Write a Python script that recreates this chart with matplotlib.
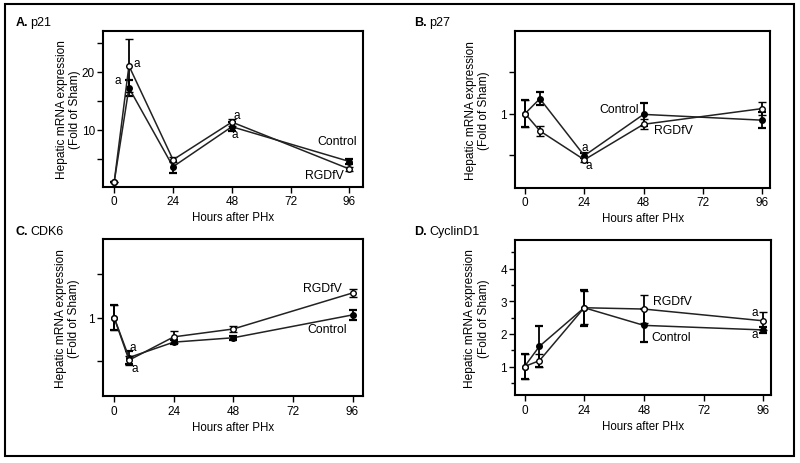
import matplotlib
matplotlib.use("Agg")
import matplotlib.pyplot as plt
from matplotlib.patches import Rectangle

plt.rcParams['font.family'] = ['Liberation Sans Narrow', 'Liberation Sans', 'DejaVu Sans']

hours = [0, 6, 24, 48, 96]

# A. p21
p21_ctrl = [1.0, 17.2, 3.6, 10.5, 4.5]
p21_ctrl_err = [0.0, 1.4, 1.0, 0.8, 0.5]
p21_rgd = [1.0, 21.0, 4.8, 11.3, 3.2]
p21_rgd_err = [0.0, 4.6, 0.4, 0.6, 0.3]

# B. p27
p27_ctrl = [1.0, 1.18, 0.49, 0.99, 0.92]
p27_ctrl_err = [0.16, 0.08, 0.03, 0.14, 0.10]
p27_rgd = [1.0, 0.79, 0.44, 0.87, 1.06]
p27_rgd_err = [0.16, 0.06, 0.03, 0.06, 0.08]

# C. CDK6
cdk6_ctrl = [1.0, 0.545, 0.72, 0.77, 1.03]
cdk6_ctrl_err = [0.14, 0.07, 0.02, 0.02, 0.055]
cdk6_rgd = [1.0, 0.515, 0.78, 0.87, 1.28]
cdk6_rgd_err = [0.14, 0.05, 0.07, 0.03, 0.045]

# D. CyclinD1
ccnd1_ctrl = [1.0, 1.62, 2.8, 2.26, 2.12]
ccnd1_ctrl_err = [0.37, 0.62, 0.55, 0.50, 0.08]
ccnd1_rgd = [1.0, 1.18, 2.8, 2.76, 2.4]
ccnd1_rgd_err = [0.37, 0.21, 0.50, 0.43, 0.28]

LINE = '#222222'

fig = plt.figure(figsize=(8, 4.64), dpi=100)
fig.patches.append(Rectangle((5 / 800, 1 - 457 / 464), 789 / 800, 452 / 464,
                             transform=fig.transFigure, fill=False,
                             edgecolor='black', linewidth=1.5))


def panel(rect, xlim, ylim, ctrl, ctrl_err, rgd, rgd_err, yticks, ylabels,
          letter, name, title_x, labels, marks, label_x):
    ax = fig.add_axes(rect)
    ax.errorbar(hours, ctrl, yerr=ctrl_err, color=LINE, lw=1.1, marker='o', ms=4,
                mfc='black', mec='black', ecolor='black', elinewidth=1.3,
                capsize=3, capthick=1.6, zorder=3)
    ax.errorbar(hours, rgd, yerr=rgd_err, color=LINE, lw=1.1, marker='o', ms=4,
                mfc='white', mec='black', mew=1.0, ecolor='black', elinewidth=1.3,
                capsize=3, capthick=1.6, zorder=4)
    ax.set_xlim(*xlim)
    ax.set_ylim(*ylim)
    ax.set_xticks([0, 24, 48, 72, 96])
    ax.set_yticks(yticks)
    ax.set_yticklabels(ylabels)
    for s in ax.spines.values():
        s.set_linewidth(1.5)
    ax.tick_params(direction='out', length=4, width=1.0, labelsize=8.5, pad=2)
    ax.set_xlabel('Hours after PHx', fontsize=8.3, labelpad=3)
    ax.set_ylabel('Hepatic mRNA expression\n(Fold of Sham)', fontsize=8.6,
                  linespacing=1.15)
    ax.yaxis.set_label_coords(label_x, 0.5)
    for txt, x, y, ha in labels:
        ax.text(x, y, txt, fontsize=8.8, ha=ha, va='center')
    for x, y in marks:
        ax.text(x, y, 'a', fontsize=8.5, ha='center', va='center')
    fy = rect[1] + rect[3] + 0.019
    fig.text(title_x, fy, letter, fontsize=9, fontweight='bold', va='center')
    fig.text(title_x + 0.019, fy, name, fontsize=9, va='center')
    return ax


panel([0.129, 0.595, 0.325, 0.336], (-4.5, 101.6), (0.12, 27),
      p21_ctrl, p21_ctrl_err, p21_rgd, p21_rgd_err,
      [5, 10, 15, 20, 25], ['', '10', '', '20', ''], 'A.', 'p21', 0.019,
      [('Control', 99, 8.0, 'right'), ('RGDfV', 93.5, 2.2, 'right')],
      [(1.5, 18.6), (9.0, 21.5), (50.0, 12.5), (49.0, 9.3)], -0.085)

panel([0.644, 0.593, 0.319, 0.338], (-4.0, 99.4), (0.1, 2.0),
      p27_ctrl, p27_ctrl_err, p27_rgd, p27_rgd_err,
      [0.5, 1.0, 1.5], ['', '1', ''], 'B.', 'p27', 0.518,
      [('Control', 30.1, 1.05, 'left'), ('RGDfV', 52.3, 0.80, 'left')],
      [(24.0, 0.59), (26.0, 0.38)], -0.098)

panel([0.129, 0.144, 0.325, 0.338], (-4.4, 100.3), (0.105, 1.89),
      cdk6_ctrl, cdk6_ctrl_err, cdk6_rgd, cdk6_rgd_err,
      [0.5, 1.0, 1.5], ['', '1', ''], 'C.', 'CDK6', 0.019,
      [('RGDfV', 91.5, 1.34, 'right'), ('Control', 93.8, 0.87, 'right')],
      [(7.5, 0.66), (8.5, 0.43)], -0.088)

axd = panel([0.644, 0.146, 0.320, 0.335], (-3.75, 99.2), (0.12, 4.88),
            ccnd1_ctrl, ccnd1_ctrl_err, ccnd1_rgd, ccnd1_rgd_err,
            [1, 2, 3, 4], ['1', '2', '3', '4'], 'D.', 'CyclinD1', 0.518,
            [('RGDfV', 51.5, 3.0, 'left'), ('Control', 50.9, 1.9, 'left')],
            [(92.5, 2.68), (92.5, 2.0)], -0.10)
axd.set_yticks([0.5, 1.5, 2.5, 3.5, 4.5], minor=True)
axd.tick_params(which='minor', direction='out', length=3, width=1.0)

fig.savefig('out.png', dpi=100)
